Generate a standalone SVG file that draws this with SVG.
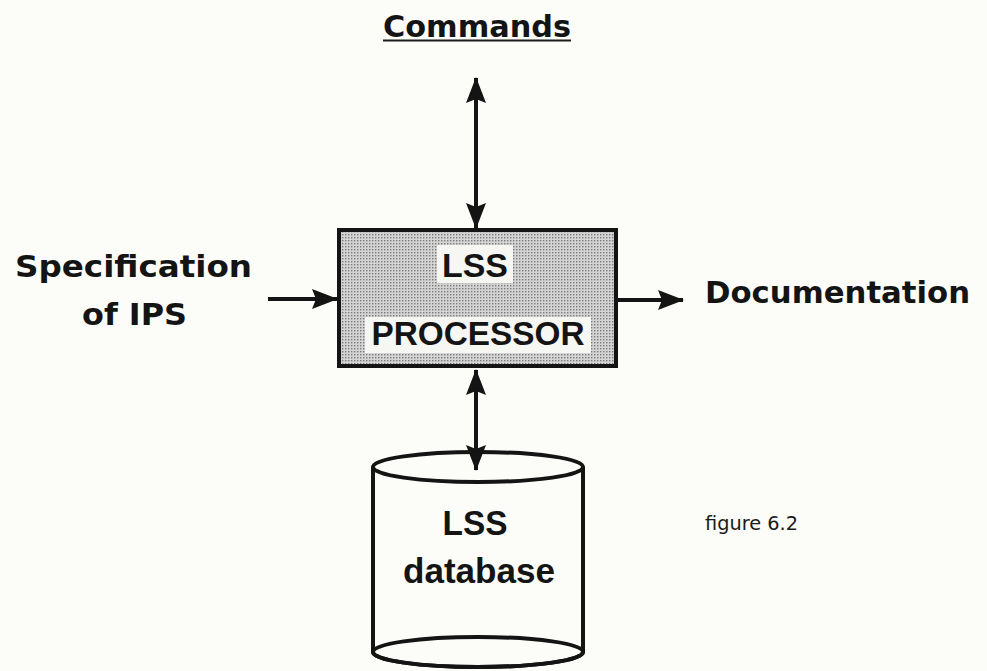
<svg xmlns="http://www.w3.org/2000/svg" width="987" height="671" viewBox="0 0 987 671">
  <style>
    .lbl { font-family: "DejaVu Sans", "Liberation Sans", sans-serif; font-weight: bold; fill: #141414; }
    .inner { font-family: "Liberation Sans", Arial, sans-serif; font-weight: bold; fill: #141414; }
    .small { font-family: "DejaVu Sans", "Liberation Sans", sans-serif; fill: #1a1a1a; }
    .wire { stroke: #141414; stroke-width: 4; fill: none; }
    .edge { stroke: #141414; stroke-width: 4; }
  </style>
  <defs>
    <pattern id="dots" width="3" height="3" patternUnits="userSpaceOnUse">
      <rect width="3" height="3" fill="#d4d4d4"/>
      <rect x="0" y="0" width="1.4" height="1.4" fill="#7a7a7a"/>
    </pattern>
    <marker id="head" viewBox="0 0 26 20" refX="25" refY="10" markerWidth="26" markerHeight="20" markerUnits="userSpaceOnUse" orient="auto-start-reverse">
      <path d="M0,0 L26,10 L0,20 L4,10 z" fill="#141414"/>
    </marker>
  </defs>

  <rect width="987" height="671" fill="#fcfcf8"/>

  <!-- top label -->
  <g id="commands">
    <text class="lbl" x="383" y="37" font-size="30" textLength="188" lengthAdjust="spacingAndGlyphs">Commands</text>
    <rect x="383" y="39.5" width="188" height="2" fill="#1a1a1a"/>
  </g>

  <!-- input label -->
  <g id="spec">
    <text class="lbl" x="15" y="277" font-size="31" textLength="237" lengthAdjust="spacingAndGlyphs">Specification</text>
    <text class="lbl" x="82" y="325" font-size="31" textLength="105" lengthAdjust="spacingAndGlyphs">of IPS</text>
  </g>

  <!-- output label -->
  <g id="documentation">
    <text class="lbl" x="705" y="303" font-size="30" textLength="265" lengthAdjust="spacingAndGlyphs">Documentation</text>
  </g>

  <!-- processor block -->
  <g id="processor">
    <rect x="339" y="230" width="277" height="136" fill="url(#dots)" class="edge"/>
    <rect x="437" y="245" width="76" height="38" fill="#f6f6f2"/>
    <rect x="365" y="317" width="226" height="36" fill="#f6f6f2"/>
    <text class="inner" x="475" y="277" font-size="34" text-anchor="middle" textLength="66" lengthAdjust="spacingAndGlyphs">LSS</text>
    <text class="inner" x="478" y="345" font-size="33" text-anchor="middle" textLength="213" lengthAdjust="spacingAndGlyphs">PROCESSOR</text>
  </g>

  <!-- database cylinder -->
  <g id="database">
    <path d="M373,467 L373,652 A105,15 0 0 0 583,652 L583,467" fill="#ffffff" class="wire"/>
    <ellipse cx="478" cy="652" rx="105" ry="15" class="wire"/>
    <ellipse cx="478" cy="467" rx="105" ry="15" fill="#ffffff" class="wire"/>
    <text class="inner" x="475" y="535" font-size="35" text-anchor="middle" textLength="65" lengthAdjust="spacingAndGlyphs">LSS</text>
    <text class="inner" x="479" y="583" font-size="35" text-anchor="middle" textLength="152" lengthAdjust="spacingAndGlyphs">database</text>
  </g>

  <!-- caption -->
  <g id="caption">
    <text class="small" x="705" y="530" font-size="19" textLength="93" lengthAdjust="spacingAndGlyphs">figure 6.2</text>
  </g>

  <!-- connectors -->
  <g id="connectors">
    <line class="edge" x1="476" y1="78" x2="476" y2="228" marker-start="url(#head)" marker-end="url(#head)"/>
    <line class="edge" x1="268" y1="299" x2="337" y2="299" marker-end="url(#head)"/>
    <line class="edge" x1="618" y1="300" x2="683" y2="300" marker-end="url(#head)"/>
    <line class="edge" x1="476" y1="370" x2="476" y2="470" marker-start="url(#head)" marker-end="url(#head)"/>
  </g>
</svg>
